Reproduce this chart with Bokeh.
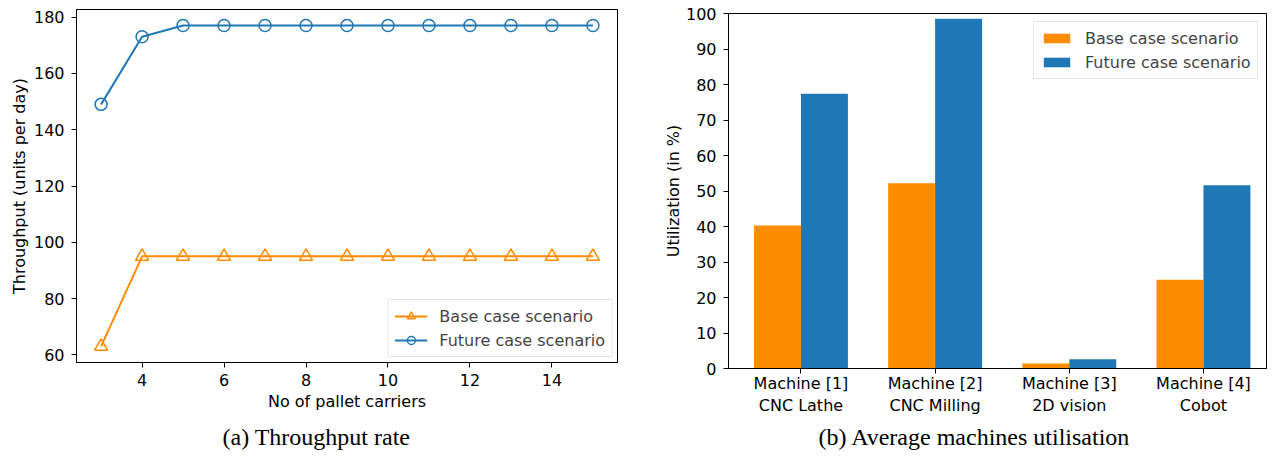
from bokeh.plotting import figure
from bokeh.models import FixedTicker, Range1d, Title, Legend, LegendItem
from bokeh.layouts import row, column
from bokeh.embed import file_html
from bokeh.resources import INLINE

# ---- data ----
pallets = [3, 4, 5, 6, 7, 8, 9, 10, 11, 12, 13, 14, 15]
base_throughput = [63, 95, 95, 95, 95, 95, 95, 95, 95, 95, 95, 95, 95]
future_throughput = [149, 173, 177, 177, 177, 177, 177, 177, 177, 177, 177, 177, 177]

machines = ["Machine [1]\nCNC Lathe", "Machine [2]\nCNC Milling",
            "Machine [3]\n2D vision", "Machine [4]\nCobot"]
base_util = [40.3, 52.2, 1.4, 25.0]
future_util = [77.4, 98.5, 2.6, 51.6]

ORANGE = "#ff8c00"
BLUE = "#1f77b4"
FONT = "DejaVu Sans"
FS = "16px"
H = 458


def style_axes(p):
    for ax in (p.xaxis[0], p.yaxis[0]):
        ax.axis_line_color = "black"
        ax.axis_line_width = 1
        ax.major_tick_out = 5
        ax.major_tick_in = 0
        ax.minor_tick_line_color = None
        ax.major_label_text_font = FONT
        ax.major_label_text_font_size = FS
        ax.major_label_text_color = "black"
        ax.axis_label_text_font = FONT
        ax.axis_label_text_font_size = FS
        ax.axis_label_text_font_style = "normal"
        ax.axis_label_text_color = "black"
    p.xgrid.visible = False
    p.ygrid.visible = False
    p.outline_line_color = "black"
    p.outline_line_width = 1
    p.background_fill_color = "white"
    p.border_fill_color = "white"


def caption(p, text, offset, standoff):
    t = Title(text=text, align="left", offset=offset, standoff=standoff,
              text_font="Liberation Serif", text_font_size="24px",
              text_font_style="normal", text_color="black")
    p.add_layout(t, "below")


# ---- left: throughput ----
top1, frame_h1 = 9, 353
p1 = figure(width=650, height=H, output_backend="svg", toolbar_location=None,
            x_range=Range1d(2.4, 15.6), y_range=Range1d(57.3, 182.7),
            min_border_left=76, min_border_right=33, min_border_top=top1,
            min_border_bottom=H - top1 - frame_h1)
style_axes(p1)
p1.xaxis.ticker = FixedTicker(ticks=[4, 6, 8, 10, 12, 14])
p1.yaxis.ticker = FixedTicker(ticks=[60, 80, 100, 120, 140, 160, 180])
p1.xaxis.axis_label = "No of pallet carriers"
p1.yaxis.axis_label = "Throughput (units per day)"
p1.xaxis.major_label_standoff = 6
p1.yaxis.major_label_standoff = 7
p1.xaxis.axis_label_standoff = 3
p1.yaxis.axis_label_standoff = 2

lb = p1.line(pallets, base_throughput, line_color=ORANGE, line_width=2)
sb = p1.scatter(pallets, base_throughput, marker="triangle", size=13, fill_color=None,
                line_color=ORANGE, line_width=1.5)
lf = p1.line(pallets, future_throughput, line_color=BLUE, line_width=2)
sf = p1.scatter(pallets, future_throughput, marker="circle", size=12, fill_color=None,
                line_color=BLUE, line_width=1.5)

leg1 = Legend(items=[LegendItem(label="Base case scenario", renderers=[lb, sb]),
                     LegendItem(label="Future case scenario", renderers=[lf, sf])],
              location="bottom_right", margin=5, padding=6, spacing=4,
              label_text_font=FONT, label_text_font_size=FS, label_height=20,
              glyph_width=33, glyph_height=20, label_standoff=12,
              border_line_color="#cccccc", border_line_width=1,
              background_fill_alpha=0.8)
p1.add_layout(leg1, "center")
caption(p1, "(a) Throughput rate", 222 - 76, 16)

# ---- right: utilisation ----
xs = list(range(len(machines)))
w = 0.35
top2, frame_h2 = 13, 355
p2 = figure(width=626, height=H, output_backend="svg", toolbar_location=None,
            x_range=Range1d(-0.54, 3.47), y_range=Range1d(0, 100),
            min_border_left=78, min_border_right=10, min_border_top=top2,
            min_border_bottom=H - top2 - frame_h2)
style_axes(p2)
p2.xaxis.ticker = FixedTicker(ticks=xs)
p2.xaxis.major_label_overrides = {i: m for i, m in zip(xs, machines)}
p2.yaxis.ticker = FixedTicker(ticks=list(range(0, 101, 10)))
p2.yaxis.axis_label = "Utilization (in %)"
p2.xaxis.major_label_standoff = 0
p2.yaxis.major_label_standoff = 7
p2.yaxis.axis_label_standoff = 0

vb = p2.vbar(x=[x - w / 2 for x in xs], top=base_util, width=w, fill_color=ORANGE, line_color=None)
vf = p2.vbar(x=[x + w / 2 for x in xs], top=future_util, width=w, fill_color=BLUE, line_color=None)
leg2 = Legend(items=[LegendItem(label="Base case scenario", renderers=[vb]),
                     LegendItem(label="Future case scenario", renderers=[vf])],
              location=(305, 289), padding=6, spacing=4,
              label_text_font=FONT, label_text_font_size=FS, label_height=20,
              glyph_width=33, glyph_height=12, label_standoff=12,
              border_line_color="#cccccc", border_line_width=1,
              background_fill_alpha=0.8)
p2.add_layout(leg2, "center")
caption(p2, "(b) Average machines utilisation", 818 - 728, 6)

layout = row(column(p1), column(p2))
open("out.html", "w").write(file_html(layout, INLINE))
